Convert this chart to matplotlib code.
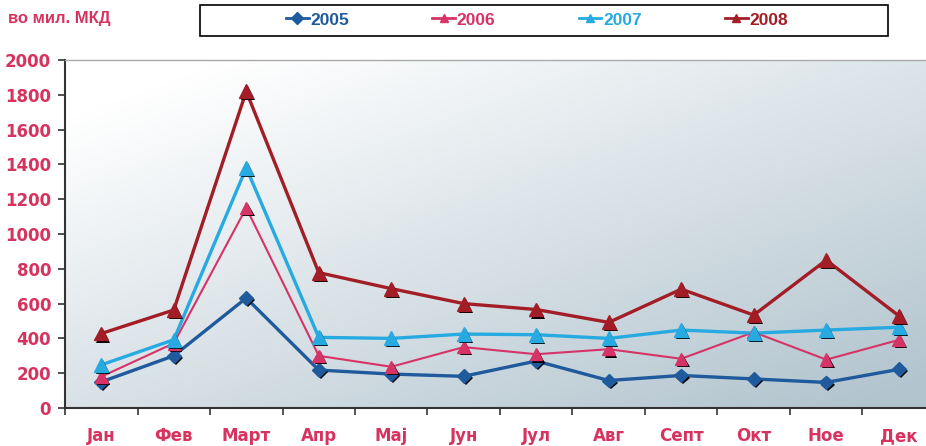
import matplotlib
matplotlib.use("Agg")
import matplotlib.pyplot as plt
import matplotlib.patheffects as pe
from matplotlib.patches import Rectangle
import numpy as np

# ── data ─────────────────────────────────────────────
months = ["Јан", "Фев", "Март", "Апр", "Мај", "Јун", "Јул", "Авг", "Септ", "Окт", "Ное", "Дек"]
y2005 = [150, 300, 632, 218, 195, 182, 270, 158, 187, 167, 147, 222]
y2006 = [180, 372, 1150, 300, 237, 350, 309, 338, 283, 436, 278, 391]
y2007 = [248, 392, 1380, 406, 400, 425, 421, 400, 448, 430, 448, 464]
y2008 = [428, 563, 1820, 778, 686, 600, 566, 492, 683, 534, 850, 530]
yticks = [0, 200, 400, 600, 800, 1000, 1200, 1400, 1600, 1800, 2000]

RED_TXT = "#d6345f"
series = [
    ("2005", y2005, "#1f5a9c", "D", 2.4, 7),
    ("2006", y2006, "#d63366", "^", 1.5, 9),
    ("2007", y2007, "#27aae1", "^", 2.4, 10),
    ("2008", y2008, "#a31d26", "^", 2.4, 10),
]

W, H = 926, 446
fig = plt.figure(figsize=(W / 100, H / 100), dpi=100)
ax = fig.add_axes([65 / W, 38 / H, 870 / W, 348 / H])

# gradient background: white top-left -> grey-blue bottom-right
gx, gy = np.meshgrid(np.linspace(0, 1, 200), np.linspace(0, 1, 100))
t = np.clip(0.55 * gx + 0.6 * gy - 0.1, 0, 1)
c0 = np.array([1.0, 1.0, 1.0])
c1 = np.array([0.70, 0.77, 0.81])
img = c0 + (c1 - c0) * t[..., None]
ax.imshow(img, extent=[0, 1, 0, 1], transform=ax.transAxes, aspect="auto", zorder=0)

x = np.arange(len(months))
shadow = [pe.SimplePatchShadow(offset=(1.5, -1.5), shadow_rgbFace="black", alpha=1.0), pe.Normal()]
handles = []
for name, vals, col, mk, lw, ms in series:
    ax.plot(x, vals, color=col, lw=lw, zorder=2)
    ax.plot(x, vals, ls="none", marker=mk, ms=ms, color=col, mec=col, zorder=3,
            path_effects=shadow)
    h, = ax.plot([], [], color=col, lw=2, marker=mk, ms=6, label=name)
    handles.append(h)

ax.set_xlim(-0.5, 11.5)
ax.set_ylim(0, 2000)
ax.set_yticks(yticks)
ax.set_xticks(x)
ax.set_xticklabels(months)
ax.set_xticks(np.arange(-0.5, 12, 1), minor=True)
ax.tick_params(axis="x", which="major", length=0, pad=14)
ax.tick_params(axis="x", which="minor", length=5, width=1.2, color="#333333", direction="out")
ax.tick_params(axis="y", length=5, width=1.2, color="#333333", direction="out", pad=5)
for lab in ax.get_xticklabels() + ax.get_yticklabels():
    lab.set_color(RED_TXT)
    lab.set_fontweight("bold")
    lab.set_fontsize(12)

ax.spines["right"].set_visible(False)
ax.spines["top"].set_color("#aaaaaa")
ax.spines["top"].set_linewidth(1)
for side in ("left", "bottom"):
    ax.spines[side].set_color("#333333")
    ax.spines[side].set_linewidth(1.5)

narrow = ["Liberation Sans Narrow", "Liberation Sans", "DejaVu Sans"]
fig.text(8 / W, 1 - 18 / H, "во мил. МКД", color=RED_TXT, fontsize=12,
         fontweight="bold", family=narrow, va="center", ha="left")

# legend box drawn separately so its padding matches
fig.patches.append(Rectangle((200 / W, 1 - 36 / H), 688 / W, 31 / H,
                             transform=fig.transFigure, fill=False,
                             edgecolor="black", lw=1.2))
leg = fig.legend(handles=handles, loc="center", ncol=4,
                 bbox_to_anchor=(537 / W, 1 - 20 / H), frameon=False,
                 handlelength=1.3, handletextpad=0.1, columnspacing=4.8,
                 prop={"family": narrow, "weight": "bold", "size": 12.5})
for txt, (_, _, col, _, _, _) in zip(leg.get_texts(), series):
    txt.set_color(col)

fig.savefig("out.png", dpi=100)
